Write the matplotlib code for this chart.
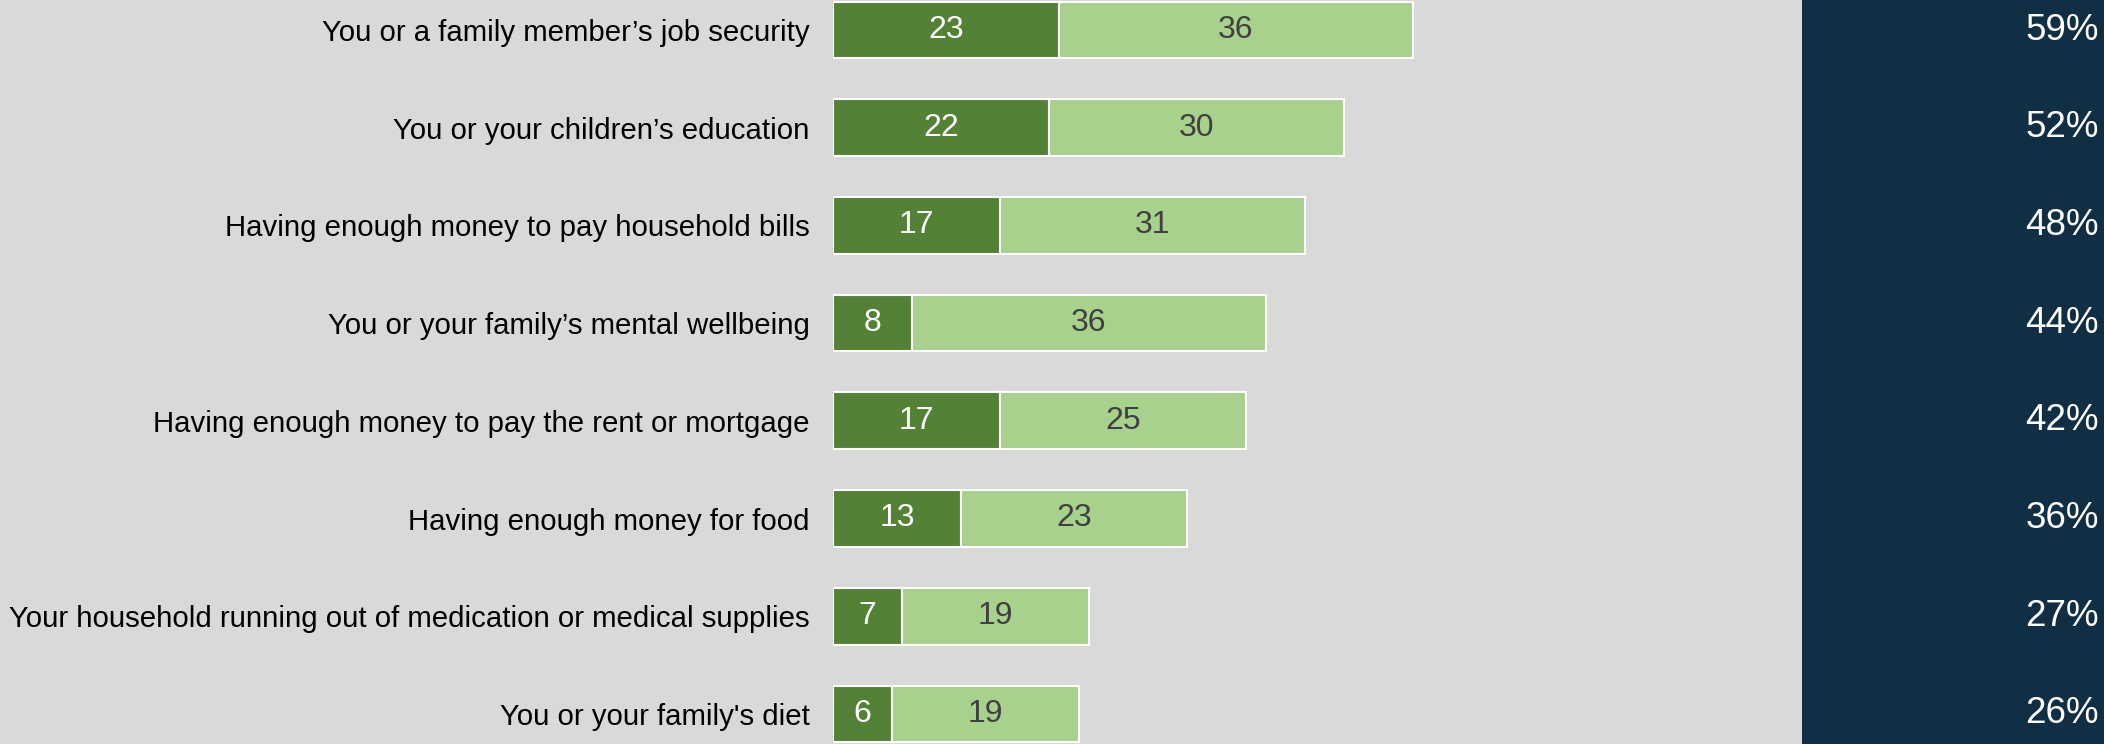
import matplotlib.pyplot as plt
import matplotlib.transforms as mtransforms

plt.rcParams['font.family'] = ['Liberation Sans', 'DejaVu Sans']

# données
categories = [
    "You or a family member\u2019s job security",
    "You or your children\u2019s education",
    "Having enough money to pay household bills",
    "You or your family\u2019s mental wellbeing",
    "Having enough money to pay the rent or mortgage",
    "Having enough money for food",
    "Your household running out of medication or medical supplies",
    "You or your family's diet",
]
very_worried = [23, 22, 17, 8, 17, 13, 7, 6]
fairly_worried = [36, 30, 31, 36, 25, 23, 19, 19]
totals = ["59%", "52%", "48%", "44%", "42%", "36%", "27%", "26%"]

W, H = 2104, 744
fig = plt.figure(figsize=(W / 100, H / 100), dpi=100)
fig.patch.set_facecolor('#D9D9D9')

# panneau sombre à droite (axes de fond)
panel = fig.add_axes([1802 / W, 0, 1 - 1802 / W, 1], zorder=-1)
panel.set_facecolor('#112F44')
panel.set_xticks([])
panel.set_yticks([])
for s in panel.spines.values():
    s.set_visible(False)

# axes principal : début des barres à x = 833 px, 9.83 px par unité
x0 = 833
unit = 9.83
ax = fig.add_axes([x0 / W, 0, 1 - x0 / W, 1])
ax.set_facecolor('none')
ax.set_xlim(0, (W - x0) / unit)
pitch = 97.7
ax.set_ylim((H - 30) / pitch, -30 / pitch)

y = list(range(len(categories)))
ax.barh(y, very_worried, height=0.58, color='#538135', edgecolor='white', linewidth=1.5)
ax.barh(y, fairly_worried, left=very_worried, height=0.58, color='#A9D18E',
        edgecolor='white', linewidth=1.5)

trans = mtransforms.blended_transform_factory(fig.transFigure, ax.transData)
for i in y:
    ax.text(very_worried[i] / 2, i, str(very_worried[i]), ha='center', va='center',
            color='white', fontsize=23)
    ax.text(very_worried[i] + fairly_worried[i] / 2, i, str(fairly_worried[i]),
            ha='center', va='center', color='#404040', fontsize=23)
    ax.text(2099 / W, i, totals[i], transform=trans, ha='right', va='center',
            color='white', fontsize=26.5)

ax.set_yticks(y)
ax.set_yticklabels(categories, fontsize=21.2, color='black')
ax.tick_params(axis='y', length=0, pad=17)
ax.set_xticks([])
for s in ax.spines.values():
    s.set_visible(False)

fig.savefig('out.png', dpi=100, facecolor=fig.get_facecolor())
